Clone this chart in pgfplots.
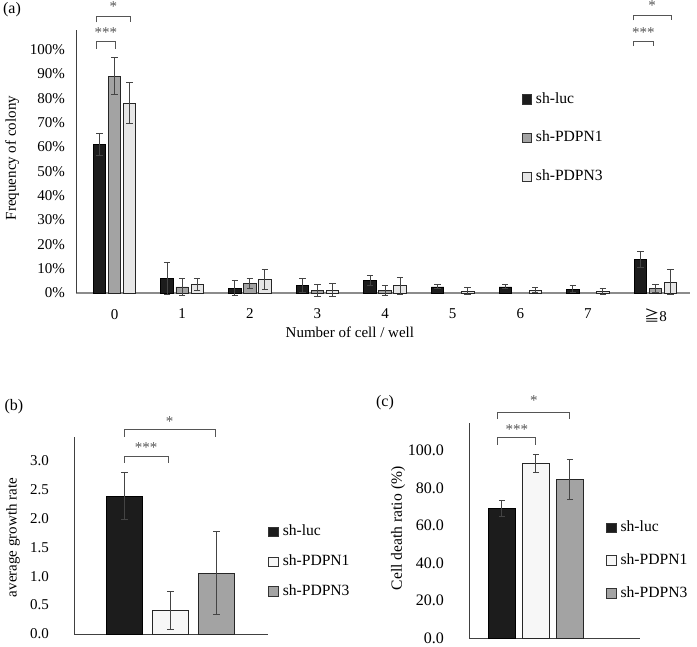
\documentclass[border=0pt]{standalone}
\usepackage{pgfplots}
\usepackage{pgfplotstable}
\pgfplotsset{compat=1.18}
\usepackage{fontspec}
\setmainfont{Liberation Serif}
\newfontfamily\cjk{Noto Sans CJK JP}
\definecolor{cblack}{HTML}{1C1C1C}
\definecolor{cgray}{HTML}{A3A3A3}
\definecolor{clight}{HTML}{E6E6E6}
\definecolor{cwhite}{HTML}{F7F7F7}
\definecolor{cerr}{HTML}{444444}
\definecolor{cstar}{HTML}{555555}
\newcommand{\fs}{\fontsize{7.5}{9}\selectfont}

% panel (a)
\pgfplotstableread{
x y e
0 61 4.5
1 6 6.5
2 2 3
3 3 3
4 5 2
5 2.5 0.8
6 2.5 0.8
7 1.5 1.5
8 13.8 3.2
}\aluc
\pgfplotstableread{
x y e
0 89 7.5
1 2.5 3.5
2 4 2
3 1 2.5
4 1 2
8 1.8 1.5
}\apdpnA
\pgfplotstableread{
x y e
0 78 8.5
1 3.5 2.5
2 5.5 4
3 1.2 2.5
4 3 3.5
5 0.8 1.5
6 1.2 1.2
7 0.5 1.2
8 4.5 5
}\apdpnC
% panel (b)
\pgfplotstableread{
x y e
1 2.39 0.41
}\bluc
\pgfplotstableread{
x y e
2 0.40 0.33
}\bpdpnA
\pgfplotstableread{
x y e
3 1.05 0.72
}\bpdpnC
% panel (c)
\pgfplotstableread{
x y e
1 69.0 4.3
}\cluc
\pgfplotstableread{
x y e
2 93.0 4.9
}\cpdpnA
\pgfplotstableread{
x y e
3 84.6 10.5
}\cpdpnC

\pgfplotsset{
  base/.style={scale only axis, axis lines*=left, major tick length=0pt,
    /pgf/number format/assume math mode=true, ticklabel style={font=\fs},
    label style={font=\fs}, clip=false,
    axis line style={draw=black!75, line width=0.4pt},
    legend cell align=left,
    legend style={draw=none, fill=none, font=\fontsize{7.8}{9}\selectfont, anchor=north west, inner sep=0pt}},
  sqleg/.style={legend image code/.code={\draw[##1, draw=black!80, line width=0.4pt] (0pt,-2.4pt) rectangle (4.8pt,2.4pt);}},
  eb/.style={error bars/y dir=both, error bars/y explicit,
    error bars/error bar style={cerr, line width=0.5pt},
    error bars/error mark options={rotate=90, mark size=1.6pt, line width=0.5pt, cerr}},
}

\begin{document}
\begin{tikzpicture}
\useasboundingbox (0,0) rectangle (348.5pt,323.5pt);
\node[font=\fontsize{8}{9}\selectfont] at (6pt,318.5pt) {(a)};
\node[font=\fontsize{8}{9}\selectfont] at (7pt,120pt) {(b)};
\node[font=\fontsize{8}{9}\selectfont] at (192.5pt,122pt) {(c)};

% ---------- (a)
\begin{axis}[base, at={(38pt,177pt)}, anchor=south west,
  width=307pt, height=131.5pt,
  xmin=-0.57, xmax=8.51, ymin=0, ymax=108,
  ytick={0,10,...,100},
  yticklabel={\pgfmathprintnumber{\tick}\%},
  yticklabel style={xshift=-2pt},
  xtick={0,1,2,3,4,5,6,7,8},
  xticklabels={0,1,2,3,4,5,6,7,{{\cjk ≧}8}},
  xticklabel style={yshift=-4.5pt},
  x axis line style={draw=black!45, line width=0.8pt},
  xlabel={Number of cell / well},
  xlabel style={at={(axis description cs:0.446,-0.148)}, anchor=center},
  ylabel={Frequency of colony},
  ylabel style={at={(axis description cs:-0.104,0.513)}, anchor=center},
  legend style={at={(0.725,0.78)}, row sep=8.5pt},
]
\addplot[ybar, sqleg, bar width=0.185, bar shift=0, fill=cblack, draw=black, line width=0.4pt, eb]
  table[x expr=\thisrow{x}-0.222, y=y, y error=e] {\aluc};
\addlegendentry{sh-luc}
\addplot[ybar, sqleg, bar width=0.185, bar shift=0, fill=cgray, draw=black!85, line width=0.4pt, eb]
  table[x=x, y=y, y error=e] {\apdpnA};
\addlegendentry{sh-PDPN1}
\addplot[ybar, sqleg, bar width=0.185, bar shift=0, fill=clight, draw=black!85, line width=0.4pt, eb]
  table[x expr=\thisrow{x}+0.222, y=y, y error=e] {\apdpnC};
\addlegendentry{sh-PDPN3}
% significance brackets
\draw[cstar, line width=0.5pt] (axis cs:-0.263,100.4) -- (axis cs:-0.263,103.3) -- (axis cs:0.007,103.3) -- (axis cs:0.007,100.4);
\node[cstar, font=\fs] at (axis cs:-0.128,107) {***};
\draw[cstar, line width=0.5pt] (axis cs:-0.263,111.1) -- (axis cs:-0.263,113.6) -- (axis cs:0.229,113.6) -- (axis cs:0.229,111.1);
\node[cstar, font=\fs] at (axis cs:-0.017,117.5) {*};
\draw[cstar, line width=0.5pt] (axis cs:7.67,101.4) -- (axis cs:7.67,103.3) -- (axis cs:7.97,103.3) -- (axis cs:7.97,101.4);
\node[cstar, font=\fs] at (axis cs:7.82,107) {***};
\draw[cstar, line width=0.5pt] (axis cs:7.67,112) -- (axis cs:7.67,114.1) -- (axis cs:8.23,114.1) -- (axis cs:8.23,112);
\node[cstar, font=\fs] at (axis cs:7.95,118) {*};
\end{axis}

% ---------- (b)
\begin{axis}[base, at={(37pt,6.5pt)}, anchor=south west,
  width=97pt, height=98.5pt,
  xmin=-0.098, xmax=4.12, ymin=0, ymax=3.41,
  ytick={0,0.5,...,3.0},
  yticklabel style={/pgf/number format/.cd, fixed, fixed zerofill, precision=1, /tikz/.cd, xshift=-9pt},
  xtick=\empty,
  ylabel={average growth rate},
  ylabel style={at={(axis description cs:-0.314,0.49)}, anchor=center},
  legend style={at={(1.0,0.575)}, row sep=4pt},
]
\addplot[ybar, sqleg, bar width=0.80, bar shift=0, fill=cblack, draw=black, line width=0.4pt, eb]
  table[x=x, y=y, y error=e] {\bluc};
\addlegendentry{sh-luc}
\addplot[ybar, sqleg, bar width=0.80, bar shift=0, fill=cwhite, draw=black!85, line width=0.4pt, eb]
  table[x=x, y=y, y error=e] {\bpdpnA};
\addlegendentry{sh-PDPN1}
\addplot[ybar, sqleg, bar width=0.80, bar shift=0, fill=cgray, draw=black!85, line width=0.4pt, eb]
  table[x=x, y=y, y error=e] {\bpdpnC};
\addlegendentry{sh-PDPN3}
\draw[cstar, line width=0.5pt] (axis cs:0.99,2.96) -- (axis cs:0.99,3.07) -- (axis cs:1.95,3.07) -- (axis cs:1.95,2.96);
\node[cstar, font=\fs] at (axis cs:1.47,3.22) {***};
\draw[cstar, line width=0.5pt] (axis cs:0.99,3.41) -- (axis cs:0.99,3.54) -- (axis cs:2.97,3.54) -- (axis cs:2.97,3.41);
\node[cstar, font=\fs] at (axis cs:1.98,3.67) {*};
\end{axis}

% ---------- (c)
\begin{axis}[base, at={(234.5pt,4.5pt)}, anchor=south west,
  width=85.5pt, height=107.5pt,
  xmin=0.03, xmax=5.06, ymin=0, ymax=114.7,
  ytick={0,20,...,100},
  ticklabel style={font=\fontsize{8}{9}\selectfont},
  yticklabel style={/pgf/number format/.cd, fixed, fixed zerofill, precision=1, /tikz/.cd, xshift=-9pt},
  xtick=\empty,
  ylabel={Cell death ratio (\%)},
  ylabel style={at={(axis description cs:-0.415,0.51)}, anchor=center, font=\fontsize{7.8}{9}\selectfont},
  legend style={at={(0.80,0.565)}, row sep=5.5pt},
]
\addplot[ybar, sqleg, bar width=0.79, bar shift=0, fill=cblack, draw=black, line width=0.4pt, eb]
  table[x=x, y=y, y error=e] {\cluc};
\addlegendentry{sh-luc}
\addplot[ybar, sqleg, bar width=0.79, bar shift=0, fill=cwhite, draw=black!85, line width=0.4pt, eb]
  table[x=x, y=y, y error=e] {\cpdpnA};
\addlegendentry{sh-PDPN1}
\addplot[ybar, sqleg, bar width=0.79, bar shift=0, fill=cgray, draw=black!85, line width=0.4pt, eb]
  table[x=x, y=y, y error=e] {\cpdpnC};
\addlegendentry{sh-PDPN3}
\draw[cstar, line width=0.5pt] (axis cs:0.88,103) -- (axis cs:0.88,107.2) -- (axis cs:2.0,107.2) -- (axis cs:2.0,103);
\node[cstar, font=\fs] at (axis cs:1.44,111) {***};
\draw[cstar, line width=0.5pt] (axis cs:0.88,116.8) -- (axis cs:0.88,120.5) -- (axis cs:3.0,120.5) -- (axis cs:3.0,116.8);
\node[cstar, font=\fs] at (axis cs:1.94,126.5) {*};
\end{axis}
\end{tikzpicture}
\end{document}
